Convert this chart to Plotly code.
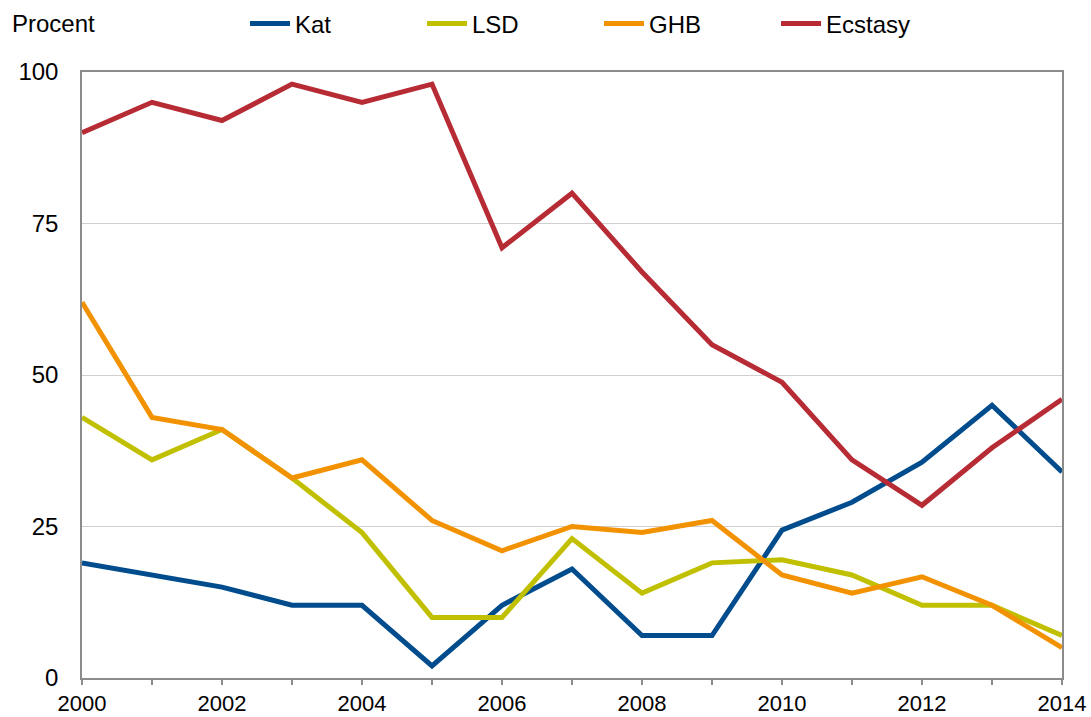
import plotly.graph_objects as go

years = list(range(2000, 2015))
kat = [19, 17, 15, 12, 12, 2, 12, 18, 7, 7, 24.4, 29, 35.6, 45, 34]
lsd = [43, 36, 41, 33, 24, 10, 10, 23, 14, 19, 19.5, 17, 12, 12, 7]
ghb = [62, 43, 41, 33, 36, 26, 21, 25, 24, 26, 17, 14, 16.7, 12, 5]
ecstasy = [90, 95, 92, 98, 95, 98, 71, 80, 67, 55, 48.8, 36, 28.5, 38, 46]

series = [("Kat", kat, "#004C8C"), ("LSD", lsd, "#C0C000"),
          ("GHB", ghb, "#F39200"), ("Ecstasy", ecstasy, "#B72B34")]

fig = go.Figure()
for name, vals, col in series:
    fig.add_trace(go.Scatter(x=years, y=vals, mode="lines", name=name,
                             line=dict(color=col, width=5)))

ticktext = [str(y) if y % 2 == 0 else "" for y in years]
font = dict(family="Liberation Sans, Arial, sans-serif", size=24, color="#000000")
xfont = dict(family="Liberation Sans, Arial, sans-serif", size=22, color="#000000")

L, R, T, B = 82, 29, 72, 39
PW, PH = 1091 - L - R, 717 - T - B

fig.update_layout(
    width=1091, height=717,
    margin=dict(l=L, r=R, t=T, b=B, autoexpand=False),
    paper_bgcolor="white", plot_bgcolor="white",
    font=font,
    showlegend=True,
    legend=dict(orientation="h", x=(245 - L) / PW, xanchor="left",
                y=1 + (T - 24) / PH, yanchor="middle",
                font=font, entrywidth=122, entrywidthmode="pixels",
                bgcolor="rgba(0,0,0,0)", itemwidth=40),
    xaxis=dict(range=[2000, 2014], tickmode="array", tickvals=years, ticktext=ticktext,
               ticks="outside", ticklen=5, tickcolor="#8C8C8C", tickwidth=1.5,
               showline=True, linecolor="#8C8C8C", linewidth=1.5, mirror=True,
               showgrid=False, zeroline=False, tickfont=xfont, ticklabelstandoff=0),
    yaxis=dict(range=[0, 100], tickvals=[0, 25, 50, 75, 100],
               showline=True, linecolor="#8C8C8C", linewidth=1.5, mirror=True,
               showgrid=True, gridcolor="#D0D0D0", gridwidth=1, zeroline=False,
               ticks="", ticklabelstandoff=17, tickfont=font),
    annotations=[dict(text="Procent", xref="paper", yref="paper",
                      x=(10 - L) / PW, y=1 + (T - 24) / PH,
                      xanchor="left", yanchor="middle", showarrow=False, font=font)],
)

fig.write_html("out.html", config={"displayModeBar": False},
               post_script="document.body.style.margin='0';document.body.style.overflow='hidden';")
